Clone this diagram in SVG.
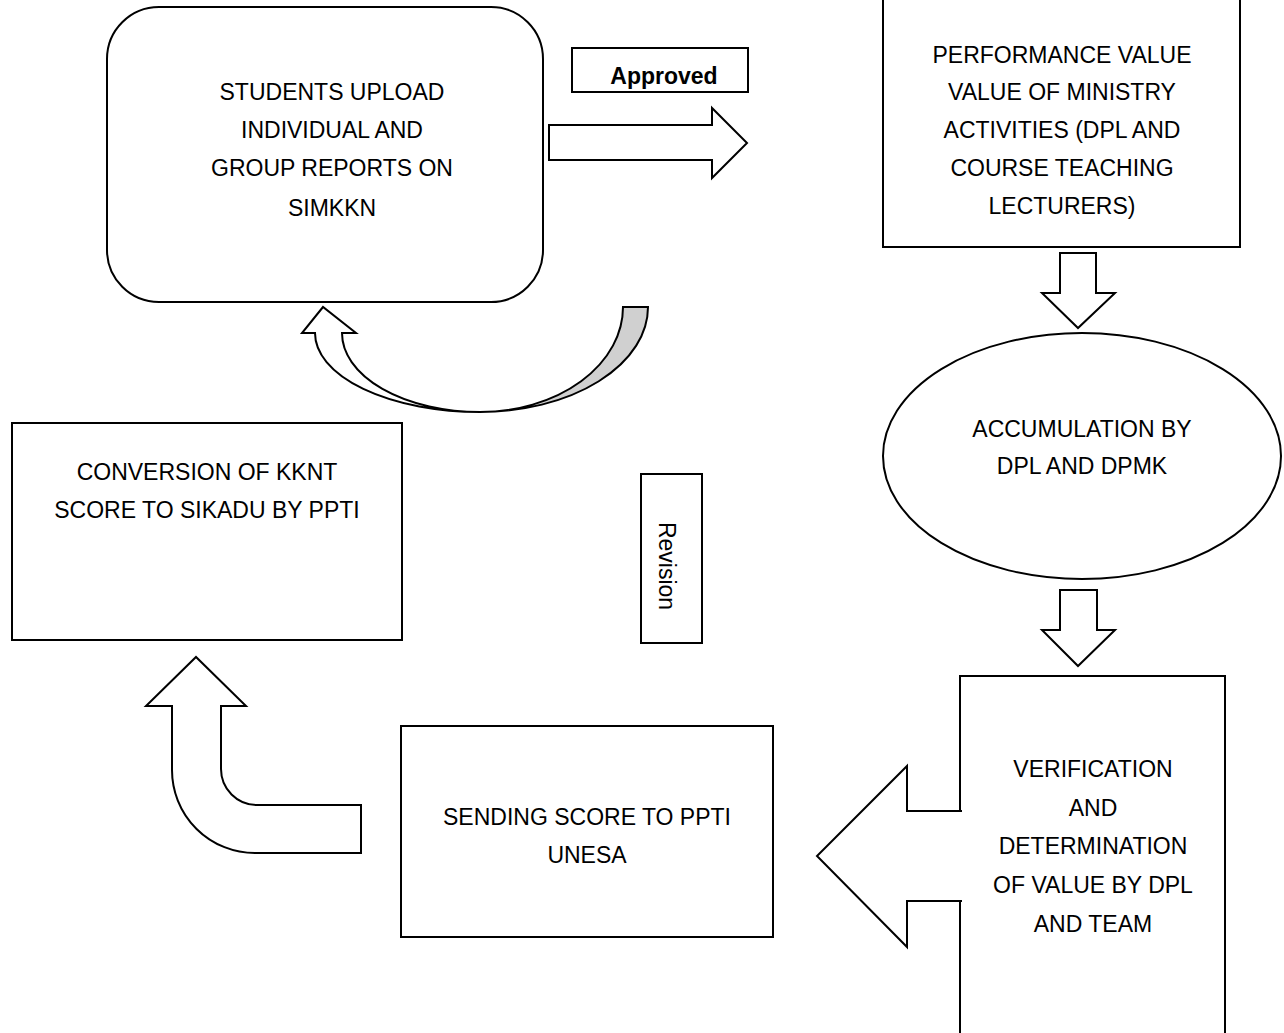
<svg xmlns="http://www.w3.org/2000/svg" width="1284" height="1033" viewBox="0 0 1284 1033">
<style>
.box{fill:#fff;stroke:#000;stroke-width:2}
.arr{fill:#fff;stroke:#000;stroke-width:2;stroke-linejoin:miter}
.t{font-family:"Liberation Sans",Arial,sans-serif;font-size:23px;fill:#000;text-anchor:middle}
.b{font-weight:bold}
</style>
<rect width="1284" height="1033" fill="#fff"/>
<g id="connectors">
<path id="arrow-right" class="arr" d="M549 125 L712 125 L712 108 L747 143 L712 178 L712 160 L549 160 Z"/>
<path id="arrow-down-1" class="arr" d="M1060 253 L1096 253 L1096 293 L1115 293 L1078 328 L1042 293 L1060 293 Z"/>
<path id="arrow-down-2" class="arr" d="M1060 590 L1097 590 L1097 630 L1115 630 L1078 666 L1042 630 L1060 630 Z"/>
<path id="arrow-bent-up" class="arr" d="M361 805 L257 805 A36 36 0 0 1 221 769 L221 706 L246 706 L196 657 L146 706 L172 706 L172 770 A83 83 0 0 0 255 853 L361 853 Z"/>
<g id="arrow-curved">
<path fill="#d0d0d0" stroke="#000" stroke-width="2" d="M623 307 L648 307 A168 105 0 0 1 480 412 A143 105 0 0 0 623 307 Z"/>
<path class="arr" d="M342 333 L356 333 L323 307 L302 333 L315 333 A165 79 0 0 0 480 412 A138 79 0 0 1 342 333 Z"/>
</g>
</g>
<g id="node-students">
<rect class="box" x="107" y="7" width="436" height="295" rx="52" ry="52" stroke-width="2.5"/>
<text class="t" x="332" y="100">STUDENTS UPLOAD</text>
<text class="t" x="332" y="138">INDIVIDUAL AND</text>
<text class="t" x="332" y="176">GROUP REPORTS ON</text>
<text class="t" x="332" y="216">SIMKKN</text>
</g>
<g id="label-approved">
<rect class="box" x="572" y="48" width="176" height="44" stroke-width="1.5"/>
<text class="t b" x="664" y="84">Approved</text>
</g>
<g id="node-performance">
<rect class="box" x="883" y="-5" width="357" height="252"/>
<text class="t" x="1062" y="63">PERFORMANCE VALUE</text>
<text class="t" x="1062" y="100">VALUE OF MINISTRY</text>
<text class="t" x="1062" y="138">ACTIVITIES (DPL AND</text>
<text class="t" x="1062" y="176">COURSE TEACHING</text>
<text class="t" x="1062" y="214">LECTURERS)</text>
</g>
<g id="node-accumulation">
<ellipse class="box" cx="1082" cy="456" rx="199" ry="123"/>
<text class="t" x="1082" y="437">ACCUMULATION BY</text>
<text class="t" x="1082" y="474">DPL AND DPMK</text>
</g>
<g id="node-verification">
<rect class="box" x="960" y="676" width="265" height="380"/>
<path class="arr" d="M962 811 L907 811 L907 766 L817 856 L907 947 L907 901 L962 901"/>
<text class="t" x="1093" y="777">VERIFICATION</text>
<text class="t" x="1093" y="816">AND</text>
<text class="t" x="1093" y="854">DETERMINATION</text>
<text class="t" x="1093" y="893">OF VALUE BY DPL</text>
<text class="t" x="1093" y="932">AND TEAM</text>
</g>
<g id="node-sending">
<rect class="box" x="401" y="726" width="372" height="211" stroke-width="1.5"/>
<text class="t" x="587" y="825">SENDING SCORE TO PPTI</text>
<text class="t" x="587" y="863">UNESA</text>
</g>
<g id="node-conversion">
<rect class="box" x="12" y="423" width="390" height="217"/>
<text class="t" x="207" y="480">CONVERSION OF KKNT</text>
<text class="t" x="207" y="518">SCORE TO SIKADU BY PPTI</text>
</g>
<g id="label-revision">
<rect class="box" x="641" y="474" width="61" height="169" stroke-width="1.5"/>
<text class="t" transform="translate(667 566) rotate(90)" x="0" y="8" font-size="24">Revision</text>
</g>
</svg>
